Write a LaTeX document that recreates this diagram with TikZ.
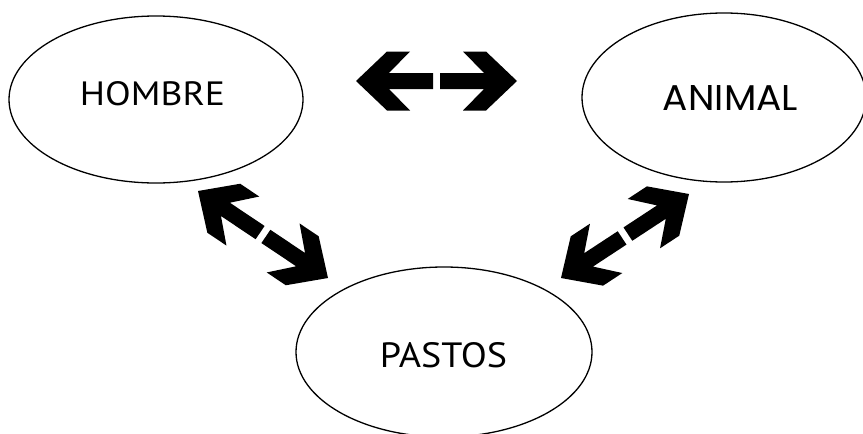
\documentclass[tikz,border=0pt]{standalone}
\usepackage{fontspec}
\setmainfont{PT Sans}
\newfontfamily\geofont{Poppins}
\usetikzlibrary{shapes.geometric,calc}

\tikzset{
  blob/.style={ellipse, draw=black, line width=1.3pt, inner sep=0pt},
  word/.style={inner sep=0pt, anchor=center},
  arrowfill/.style={fill=black},
}

% Thick chevron-headed arrow from tail #1 to tip #2
\newcommand\blockarrow[2]{%
  \fill[arrowfill]
    ($(#1)!8pt!90:(#2)$)
    -- ($(#2)!33pt!(#1)!8pt!-90:(#1)$)
    -- ($(#2)!54pt!(#1)!29.5pt!-90:(#1)$)
    -- ($(#2)!31pt!(#1)!29.5pt!-90:(#1)$)
    -- (#2)
    -- ($(#2)!31pt!(#1)!29.5pt!90:(#1)$)
    -- ($(#2)!54pt!(#1)!29.5pt!90:(#1)$)
    -- ($(#2)!33pt!(#1)!8pt!90:(#1)$)
    -- ($(#1)!8pt!-90:(#2)$)
    -- cycle;}

\begin{document}
\begin{tikzpicture}[x=1pt, y=-1pt]
  \useasboundingbox (0,0) rectangle (863,434);
  \fill[white] (0,0) rectangle (863,434);
  \clip (0,0) rectangle (863,434);

  % the three ellipses
  \node[blob, minimum width=294pt, minimum height=167pt] (hombre) at (156,99.5) {};
  \node[blob, minimum width=284pt, minimum height=169pt] (animal) at (724,97.5) {};
  \node[blob, minimum width=296pt, minimum height=170pt] (pastos) at (444,352) {};

  % their labels
  \node[word] (hombre-t) at (152.5,93.5) {\resizebox{145pt}{24pt}{HOMBRE}};
  \node[word] (animal-t) at (730.5,97.5) {\resizebox{135pt}{25pt}{\geofont ANIMAL}};
  \node[word] (pastos-t) at (443.5,355.5) {\resizebox{127pt}{25pt}{PASTOS}};

  % arrow tails and tips
  \coordinate (ha-l) at (433,81);   \coordinate (ha-lt) at (356,81);
  \coordinate (ha-r) at (440,81);   \coordinate (ha-rt) at (517,81);
  \coordinate (hp-u) at (260.1,232.6); \coordinate (hp-ut) at (198,191);
  \coordinate (hp-d) at (265.9,236.4); \coordinate (hp-dt) at (328,278);
  \coordinate (ap-u) at (627.9,234.1); \coordinate (ap-ut) at (689,194);
  \coordinate (ap-d) at (622.1,237.9); \coordinate (ap-dt) at (561,278);

  % HOMBRE <-> ANIMAL
  \blockarrow{ha-l}{ha-lt}
  \blockarrow{ha-r}{ha-rt}
  % HOMBRE <-> PASTOS
  \blockarrow{hp-u}{hp-ut}
  \blockarrow{hp-d}{hp-dt}
  % ANIMAL <-> PASTOS
  \blockarrow{ap-u}{ap-ut}
  \blockarrow{ap-d}{ap-dt}
\end{tikzpicture}
\end{document}
